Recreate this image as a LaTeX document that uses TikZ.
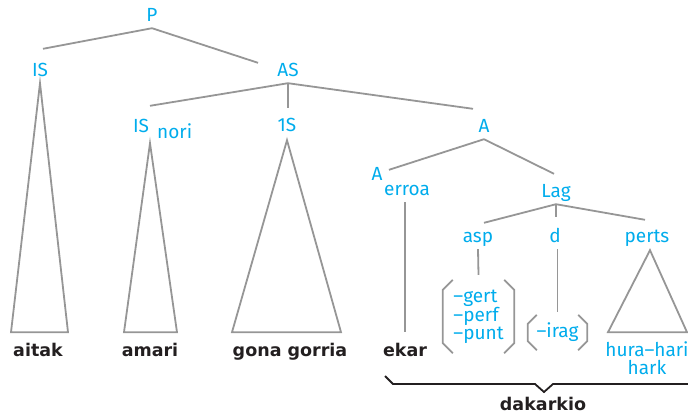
\documentclass[tikz,border=0pt]{standalone}
\usepackage{fontspec}
\setmainfont{Fira Sans}
\newfontfamily\wordfont{DejaVu Sans}
\usepackage{tikz}
\definecolor{labblue}{RGB}{0,172,236}
\definecolor{linegray}{RGB}{150,150,150}
\definecolor{ink}{RGB}{35,31,32}
\tikzset{
  lab/.style={text=labblue,font=\fontsize{19}{19}\selectfont,inner xsep=0pt,inner ysep=7pt,text height=12pt,text depth=0pt},
  feat/.style={text=labblue,font=\fontsize{19}{18}\selectfont,align=left,inner sep=0pt},
  word/.style={text=ink,font=\wordfont\bfseries\fontsize{17.5}{18}\selectfont,inner sep=0pt,anchor=base},
  branch/.style={draw=linegray,line width=1.8pt},
  brace/.style={draw=ink,line width=1.8pt}
}
\begin{document}
\begin{tikzpicture}[x=1pt,y=-1pt]
\useasboundingbox (0,0) rectangle (688,416);
\node[lab] (P) at (152,15) {P};
\node[lab] (ISa) at (40,70) {IS};
\node[lab] (AS) at (288,70) {AS};
\node[lab] (ISn) at (141,126) {IS};
\node[lab,anchor=west] (nori) at (157,132) {nori};
\node[lab] (OneS) at (287,125) {1S};
\node[lab] (Aup) at (484,126) {A};
\node[lab] (Alo) at (377,174) {A};
\node[lab] (erroa) at (407,189) {erroa};
\node[lab] (Lag) at (556,191) {Lag};
\node[lab] (asp) at (478,236) {asp};
\node[lab] (d) at (555,236) {d};
\node[lab] (perts) at (647,236) {perts};
\node[feat,minimum width=71pt,minimum height=73pt] (gert) at (478.5,316.5) {--gert\\--perf\\--punt};
\node[feat,minimum width=59pt,minimum height=35pt] (irag) at (557.5,332.5) {--irag};
\node[feat,align=center,font=\fontsize{19}{18}\selectfont] (pron) at (647,358) {hura--hari\\hark};
\node[word] (aitak) at (38,356) {aitak};
\node[word] (amari) at (150,356) {amari};
\node[word] (gona) at (290,356) {gona gorria};
\node[word] (ekar) at (405,356) {ekar};
\node[word] (dakarkio) at (543,410) {dakarkio};

\draw[branch] (P.south) -- ([shift={(3,-8)}]ISa.north);
\draw[branch] (P.south) -- ([shift={(-30,6)}]AS.north);
\draw[branch] (AS.south) -- ([shift={(9,-7)}]ISn.north);
\draw[branch] (AS.south) -- ++(0,25);
\draw[branch] (AS.south) -- ([shift={(-11,-4)}]Aup.north);
\draw[branch] (Aup.south) -- ([shift={(12,9)}]Alo.north);
\draw[branch] (Aup.south) -- ([shift={(-2,-4)}]Lag.north);
\draw[branch] (Lag.south) -- ([shift={(6,0)}]asp.north);
\draw[branch] (Lag.south) -- ++(0,13);
\draw[branch] (Lag.south) -- ([shift={(-2,-3)}]perts.north);
\draw[branch] (ekar.north |- erroa.south) -- ([yshift=11pt]ekar.north);
\draw[branch] (asp.south) -- ([yshift=5pt]gert.north);
\draw[branch] (irag.north |- d.south) -- ([yshift=3pt]irag.north);

\draw[branch] (ISa.south) -- ++(-29,249) -- ++(57,0) -- cycle;
\draw[branch] ([shift={(9,4)}]ISn.south) -- ++(-26,189) -- ++(53,0) -- cycle;
\draw[branch] ([shift={(0,2)}]OneS.south) -- ++(-55,192) -- ++(109,0) -- cycle;
\draw[branch] ([shift={(3,1)}]perts.south) -- ++(-42,82) -- ++(79,0) -- cycle;

\draw[branch] ([xshift=10pt]gert.north west) -- ([yshift=-10pt]gert.north west) -- ([yshift=10pt]gert.south west) -- ([xshift=10pt]gert.south west);
\draw[branch] ([xshift=-10pt]gert.north east) -- ([yshift=-10pt]gert.north east) -- ([yshift=10pt]gert.south east) -- ([xshift=-10pt]gert.south east);
\draw[branch] ([xshift=9pt]irag.north west) -- ([yshift=-9pt]irag.north west) -- ([yshift=9pt]irag.south west) -- ([xshift=9pt]irag.south west);
\draw[branch] ([xshift=-9pt]irag.north east) -- ([yshift=-9pt]irag.north east) -- ([yshift=9pt]irag.south east) -- ([xshift=-9pt]irag.south east);

\draw[brace] (385,376) -- (393,384) -- (535,384) -- (544,392) -- (553,384) -- (690,384);
\end{tikzpicture}
\end{document}
